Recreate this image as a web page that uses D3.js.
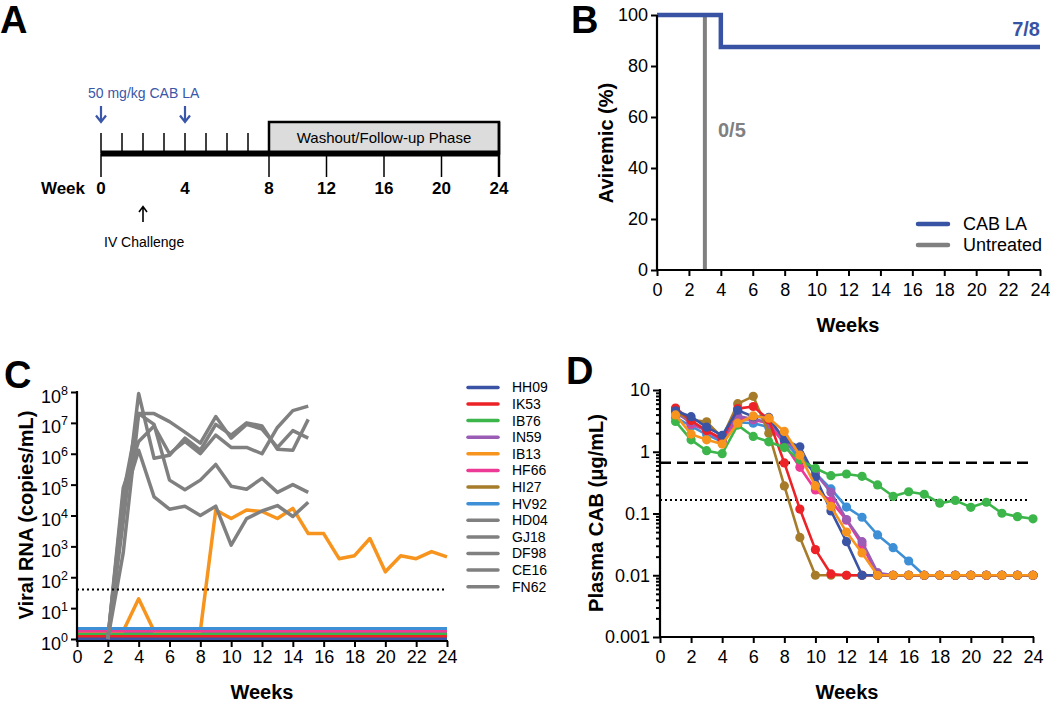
<!DOCTYPE html>
<html><head><meta charset="utf-8">
<script src="https://cdn.jsdelivr.net/npm/d3@7"></script>
<style>body{margin:0;background:#fff}</style>
</head><body>
<svg id="fig" width="1050" height="702"></svg>
<script>
// ================= DATA =================
// Panel A – study timeline
const timelineLabels = [0, 4, 8, 12, 16, 20, 24];
const weeklyTicks = [0, 1, 2, 3, 4, 5, 6, 7];
const lowerTicks = [0, 8, 12, 16, 20, 24];
const doseWeeks = [0, 4];
const challengeWeek = 2;
const washoutStart = 8, washoutEnd = 24;

// Panel B – aviremic (%)
const cabWeeks = [0, 4, 24];
const cabAviremic = [100, 87.5, 87.5];
const untreatedWeeks = [0, 3];
const untreatedAviremic = [100, 0];

// Panel C – viral RNA (copies/mL)
const cabAnimals = ["HH09", "IK53", "IB76", "IN59", "IB13", "HF66", "HI27", "HV92"];
const untreatedAnimals = ["HD04", "GJ18", "DF98", "CE16", "FN62"];
const animalColors = ["#3a53a4", "#ec2227", "#3cb54a", "#9a5cb4", "#f7941e", "#ec3a96", "#a67c2a", "#3d8fd6"];
const untreatedColor = "#808080";
const rnaWeeksFull = [0, 24];
const rnaBaseline = [1.04, 1.25, 1.51, 1.82, 1.82, 1.82, 2.19, 2.19];
const ib13RnaWeeks = [0, 1, 2, 3, 4, 5, 6, 7, 8, 9, 10, 11, 12, 13, 14, 15, 16, 17, 18, 19, 20, 21, 22, 23, 24];
const ib13Rna = [1.82, 1.82, 1.82, 1.82, 20, 1.82, 1.82, 1.82, 1.82, 1.5e4, 8.0e3, 1.5e4, 1.35e4, 8.0e3, 1.7e4, 2.6e3, 2.6e3, 400, 500, 1.8e3, 150, 500, 400, 680, 460];
const untreatedRnaWeeks = [2, 3, 4, 5, 6, 7, 8, 9, 10, 11, 12, 13, 14, 15];
const rnaHD04 = [1, 6.3e3, 8.9e7, 7.1e5, 8.9e5, 3.2e6, 1.3e6, 8.9e6, 4.0e6, 1.0e7, 7.9e6, 1.4e6, 1.3e6, 1.3e7];
const rnaGJ18 = [1, 5.0e4, 2.0e7, 2.0e7, 1.1e7, 5.0e6, 2.2e6, 1.6e7, 3.2e6, 8.9e6, 6.3e6, 1.6e6, 5.6e6, 3.2e6];
const rnaDF98 = [1, 7.9e4, 2.5e6, 7.9e6, 1.0e6, 2.5e6, 1.0e6, 4.0e6, 1.6e6, 1.6e6, 1.0e6, 7.1e6, 2.5e7, 3.5e7];
const rnaCE16 = [1, 630, 2.0e7, 8.9e6, 1.4e5, 6.8e4, 1.4e5, 4.5e5, 8.9e4, 7.1e4, 1.6e5, 5.6e4, 1.0e5, 5.6e4];
const rnaFN62 = [1, 3.2e4, 1.3e6, 4.0e4, 1.6e4, 2.0e4, 1.0e4, 2.0e4, 1.1e3, 7.9e3, 1.4e4, 2.1e4, 9.3e3, 2.7e4];
const rnaLimit = 40;
const rnaDecades = [1, 10, 100, 1e3, 1e4, 1e5, 1e6, 1e7, 1e8];
const rnaExponents = ["0", "1", "2", "3", "4", "5", "6", "7", "8"];

// Panel D – plasma CAB (µg/mL), weeks 1..24
const cabPkWeeks = [1, 2, 3, 4, 5, 6, 7, 8, 9, 10, 11, 12, 13, 14, 15, 16, 17, 18, 19, 20, 21, 22, 23, 24];
const pkHH09 = [4.6, 3.7, 2.5, 1.84, 4.7, 3.7, 3.6, 1.55, 1.2, 0.39, 0.11, 0.035, 0.01, 0.01, 0.01, 0.01, 0.01, 0.01, 0.01, 0.01, 0.01, 0.01, 0.01, 0.01];
const pkIK53 = [5.1, 3.2, 2.2, 1.6, 5.0, 5.4, 3.3, 0.66, 0.118, 0.026, 0.0105, 0.01, 0.01, 0.01, 0.01, 0.01, 0.01, 0.01, 0.01, 0.01, 0.01, 0.01, 0.01, 0.01];
const pkIB76 = [3.1, 1.56, 1.04, 0.93, 2.7, 1.77, 1.45, 1.17, 0.74, 0.54, 0.41, 0.436, 0.40, 0.29, 0.19, 0.225, 0.205, 0.147, 0.163, 0.126, 0.152, 0.101, 0.089, 0.082];
const pkIN59 = [4.3, 3.0, 2.2, 1.6, 3.8, 3.4, 3.0, 1.7, 0.9, 0.45, 0.22, 0.08, 0.035, 0.011, 0.01, 0.01, 0.01, 0.01, 0.01, 0.01, 0.01, 0.01, 0.01, 0.01];
const pkIB13 = [3.95, 1.93, 1.56, 1.33, 2.9, 3.8, 3.5, 2.13, 0.88, 0.28, 0.13, 0.05, 0.023, 0.01, 0.01, 0.01, 0.01, 0.01, 0.01, 0.01, 0.01, 0.01, 0.01, 0.01];
const pkHF66 = [4.8, 2.8, 2.2, 1.5, 3.4, 3.3, 2.9, 1.35, 0.56, 0.24, 0.16, 0.078, 0.031, 0.01, 0.01, 0.01, 0.01, 0.01, 0.01, 0.01, 0.01, 0.01, 0.01, 0.01];
const pkHI27 = [4.4, 3.3, 3.05, 1.7, 6.0, 7.9, 2.0, 0.28, 0.041, 0.01, 0.01, 0.01, 0.01, 0.01, 0.01, 0.01, 0.01, 0.01, 0.01, 0.01, 0.01, 0.01, 0.01, 0.01];
const pkHV92 = [3.6, 2.6, 1.9, 1.45, 3.0, 2.9, 2.5, 1.5, 0.78, 0.45, 0.25, 0.127, 0.087, 0.045, 0.028, 0.017, 0.01, 0.01, 0.01, 0.01, 0.01, 0.01, 0.01, 0.01];
const pkDrawOrder = ["HV92", "HF66", "IN59", "HI27", "IK53", "HH09", "IB76", "IB13"];
const pkIC90x4 = 0.664;
const pkIC90 = 0.166;
const pkDecades = [0.001, 0.01, 0.1, 1, 10];
const pkDecadeLabels = ["0.001", "0.01", "0.1", "1", "10"];

const weekTicks = [0, 2, 4, 6, 8, 10, 12, 14, 16, 18, 20, 22, 24];

// ================= DRAWING =================
const FONT = "'Liberation Sans', Arial, Helvetica, sans-serif";
const svg = d3.select("#fig").attr("font-family", FONT);
const colorOf = name => animalColors[cabAnimals.indexOf(name)];

function styleAxis(g, fs) {
  g.select(".domain").remove();
  g.selectAll(".tick line").attr("stroke", "#000").attr("stroke-width", 2);
  g.selectAll(".tick text").attr("font-family", FONT).attr("font-size", fs || 18).attr("fill", "#000");
}
function panelLetter(t, x, y) {
  svg.append("text").attr("x", x).attr("y", y).text(t)
    .attr("font-size", 38).attr("font-weight", "bold");
}
function yTitle(t, x, y) {
  svg.append("text").attr("transform", `translate(${x},${y}) rotate(-90)`)
    .attr("text-anchor", "middle").attr("font-size", 20).attr("font-weight", "bold").text(t);
}
function xTitle(t, x, y) {
  svg.append("text").attr("x", x).attr("y", y).attr("text-anchor", "middle")
    .attr("font-size", 20).attr("font-weight", "bold").text(t);
}

// ---------- Panel A ----------
panelLetter("A", 0, 33);
const xA = d3.scaleLinear().domain([0, 8, 24]).range([101, 269, 499]);
const barY = 153.5;
const gA = svg.append("g");
gA.append("rect").attr("x", xA(washoutStart)).attr("y", 122)
  .attr("width", xA(washoutEnd) - xA(washoutStart)).attr("height", barY - 122)
  .attr("fill", "#dcdcdc").attr("stroke", "#000").attr("stroke-width", 2.5);
gA.append("text").attr("x", (xA(washoutStart) + xA(washoutEnd)) / 2).attr("y", 143)
  .attr("text-anchor", "middle").attr("font-size", 15).text("Washout/Follow-up Phase");
gA.selectAll(".wk").data(weeklyTicks).join("line")
  .attr("x1", d => xA(d)).attr("x2", d => xA(d)).attr("y1", 133).attr("y2", barY)
  .attr("stroke", "#000").attr("stroke-width", 1.5);
gA.selectAll(".lw").data(lowerTicks).join("line")
  .attr("x1", d => xA(d)).attr("x2", d => xA(d)).attr("y1", barY).attr("y2", 177)
  .attr("stroke", "#000").attr("stroke-width", 1.5);
gA.append("line").attr("x1", xA(washoutEnd)).attr("x2", xA(washoutEnd)).attr("y1", 122).attr("y2", 177)
  .attr("stroke", "#000").attr("stroke-width", 2.5);
gA.append("line").attr("x1", xA(0)).attr("x2", xA(24)).attr("y1", barY).attr("y2", barY)
  .attr("stroke", "#000").attr("stroke-width", 6);
gA.selectAll(".tl").data(timelineLabels).join("text")
  .attr("x", d => xA(d)).attr("y", 194).attr("text-anchor", "middle")
  .attr("font-size", 17).attr("font-weight", "bold").text(d => d);
gA.append("text").attr("x", 85).attr("y", 194).attr("text-anchor", "end")
  .attr("font-size", 17).attr("font-weight", "bold").text("Week");
const doseBlue = "#3a56a8";
gA.append("text").attr("x", 88).attr("y", 98).attr("fill", doseBlue).attr("font-size", 14).text("50 mg/kg CAB LA");
doseWeeks.forEach(w => {
  const x = xA(w);
  gA.append("path").attr("d", `M${x},106 L${x},122 M${x - 5},115.5 L${x},122 L${x + 5},115.5`)
    .attr("fill", "none").attr("stroke", doseBlue).attr("stroke-width", 2.2);
});
{
  const x = xA(challengeWeek);
  gA.append("path").attr("d", `M${x},207 L${x},222 M${x - 4},212 L${x},206.5 L${x + 4},212`)
    .attr("fill", "none").attr("stroke", "#000").attr("stroke-width", 1.6);
  gA.append("text").attr("x", 104).attr("y", 247).attr("font-size", 14).text("IV Challenge");
}

// ---------- Panel B ----------
panelLetter("B", 571, 33);
const xB = d3.scaleLinear().domain([0, 24]).range([657, 1040]);
const yB = d3.scaleLinear().domain([0, 100]).range([270, 15]);
const lineB = d3.line().curve(d3.curveStepAfter).x(d => xB(d[0])).y(d => yB(d[1]));
svg.append("path").attr("d", lineB(d3.zip(untreatedWeeks, untreatedAviremic)))
  .attr("fill", "none").attr("stroke", untreatedColor).attr("stroke-width", 4);
svg.append("path").attr("d", lineB(d3.zip(cabWeeks, cabAviremic)))
  .attr("fill", "none").attr("stroke", "#3953a4").attr("stroke-width", 4.5);
svg.append("g").attr("transform", "translate(0,270)")
  .call(d3.axisBottom(xB).tickValues(weekTicks).tickSize(6).tickPadding(7).tickSizeOuter(0))
  .call(g => styleAxis(g));
svg.append("g").attr("transform", "translate(657,0)")
  .call(d3.axisLeft(yB).tickValues([0, 20, 40, 60, 80, 100]).tickSize(6).tickPadding(3).tickSizeOuter(0))
  .call(g => styleAxis(g));
svg.append("line").attr("x1", 657).attr("x2", 1041).attr("y1", 270).attr("y2", 270).attr("stroke", "#000").attr("stroke-width", 2.2);
svg.append("line").attr("x1", 657).attr("x2", 657).attr("y1", 15).attr("y2", 271).attr("stroke", "#000").attr("stroke-width", 2.2);
svg.append("text").attr("x", 1040).attr("y", 36).attr("text-anchor", "end").attr("fill", "#3953a4")
  .attr("font-size", 20).attr("font-weight", "bold").text("7/8");
svg.append("text").attr("x", 718).attr("y", 137).attr("fill", untreatedColor)
  .attr("font-size", 20).attr("font-weight", "bold").text("0/5");
[["CAB LA", "#3953a4", 224], ["Untreated", untreatedColor, 245]].forEach(([t, c, y]) => {
  svg.append("line").attr("x1", 918).attr("x2", 948).attr("y1", y).attr("y2", y)
    .attr("stroke", c).attr("stroke-width", 4.5).attr("stroke-linecap", "round");
  svg.append("text").attr("x", 963).attr("y", y + 6).attr("font-size", 18).text(t);
});
yTitle("Aviremic (%)", 613, 143);
xTitle("Weeks", 848, 332);

// ---------- Panel C ----------
panelLetter("C", 4, 388);
const xC = d3.scaleLinear().domain([0, 24]).range([77, 447]);
const yC = d3.scaleLog().domain([1, 1e8]).range([639, 392]);
const lineC = d3.line().x(d => xC(d[0])).y(d => yC(d[1]));
const gC = svg.append("g");
cabAnimals.forEach((name, i) => {
  if (name === "IB13") {
    gC.append("path").attr("d", lineC(d3.zip(ib13RnaWeeks, ib13Rna)))
      .attr("fill", "none").attr("stroke", animalColors[i]).attr("stroke-width", 3.5).attr("stroke-linejoin", "round");
  } else {
    gC.append("path").attr("d", lineC(rnaWeeksFull.map(w => [w, rnaBaseline[i]])))
      .attr("fill", "none").attr("stroke", animalColors[i]).attr("stroke-width", 3);
  }
});
[rnaHD04, rnaGJ18, rnaDF98, rnaCE16, rnaFN62].forEach(vals => {
  gC.append("path").attr("d", lineC(d3.zip(untreatedRnaWeeks, vals)))
    .attr("fill", "none").attr("stroke", untreatedColor).attr("stroke-width", 3.5).attr("stroke-linejoin", "round");
});
svg.append("line").attr("x1", xC(0)).attr("x2", xC(24)).attr("y1", yC(rnaLimit)).attr("y2", yC(rnaLimit))
  .attr("stroke", "#000").attr("stroke-width", 2).attr("stroke-dasharray", "2,3");
svg.append("g").attr("transform", "translate(0,641)")
  .call(d3.axisBottom(xC).tickValues(weekTicks).tickSize(6).tickPadding(3).tickSizeOuter(0))
  .call(g => styleAxis(g));
const gCy = svg.append("g").attr("transform", "translate(77,0)")
  .call(d3.axisLeft(yC).tickValues(rnaDecades).tickSize(6).tickFormat("").tickSizeOuter(0))
  .call(g => styleAxis(g));
gCy.selectAll(".tick").each(function (d, i) {
  const t = d3.select(this).append("text").attr("x", -9).attr("y", 10).attr("text-anchor", "end").attr("fill", "#000");
  t.append("tspan").attr("font-size", 18).text("10");
  t.append("tspan").attr("font-size", 12.5).attr("dy", -8).text(rnaExponents[i]);
});
svg.append("line").attr("x1", 76).attr("x2", 448).attr("y1", 641).attr("y2", 641).attr("stroke", "#000").attr("stroke-width", 2.2);
svg.append("line").attr("x1", 77).attr("x2", 77).attr("y1", 391).attr("y2", 642).attr("stroke", "#000").attr("stroke-width", 2.2);
yTitle("Viral RNA (copies/mL)", 33, 515);
xTitle("Weeks", 262, 699);
const legNames = cabAnimals.concat(untreatedAnimals);
const legColors = animalColors.concat(untreatedAnimals.map(() => untreatedColor));
const legY = d3.scalePoint().domain(legNames).range([387.4, 586.7]);
legNames.forEach((n, i) => {
  svg.append("line").attr("x1", 468).attr("x2", 498).attr("y1", legY(n)).attr("y2", legY(n))
    .attr("stroke", legColors[i]).attr("stroke-width", 3.5).attr("stroke-linecap", "round");
  svg.append("text").attr("x", 512).attr("y", legY(n) + 5).attr("font-size", 14).text(n);
});

// ---------- Panel D ----------
panelLetter("D", 566, 384);
const xD = d3.scaleLinear().domain([0, 24]).range([660, 1033]);
const yD = d3.scaleLog().domain([0.001, 10]).range([637, 390]);
const pkSeries = { HH09: pkHH09, IK53: pkIK53, IB76: pkIB76, IN59: pkIN59, IB13: pkIB13, HF66: pkHF66, HI27: pkHI27, HV92: pkHV92 };
svg.append("line").attr("x1", xD(0)).attr("x2", 1030).attr("y1", yD(pkIC90x4)).attr("y2", yD(pkIC90x4))
  .attr("stroke", "#000").attr("stroke-width", 2.5).attr("stroke-dasharray", "11,6");
svg.append("line").attr("x1", xD(0)).attr("x2", 1030).attr("y1", yD(pkIC90)).attr("y2", yD(pkIC90))
  .attr("stroke", "#000").attr("stroke-width", 2).attr("stroke-dasharray", "2,3");
const lineD = d3.line().x(d => xD(d[0])).y(d => yD(d[1]));
pkDrawOrder.forEach(name => {
  const pts = d3.zip(cabPkWeeks, pkSeries[name]);
  const g = svg.append("g");
  g.append("path").attr("d", lineD(pts)).attr("fill", "none").attr("stroke", colorOf(name))
    .attr("stroke-width", 2.6).attr("stroke-linejoin", "round");
  g.selectAll("circle").data(pts).join("circle").attr("cx", d => xD(d[0])).attr("cy", d => yD(d[1]))
    .attr("r", 4.6).attr("fill", colorOf(name));
});
svg.append("g").attr("transform", "translate(0,637)")
  .call(d3.axisBottom(xD).tickValues(weekTicks).tickSize(6).tickPadding(7).tickSizeOuter(0))
  .call(g => styleAxis(g));
svg.append("g").attr("transform", "translate(660,0)")
  .call(d3.axisLeft(yD).tickValues(pkDecades).tickSize(7).tickPadding(3).tickSizeOuter(0)
    .tickFormat((d, i) => pkDecadeLabels[i]))
  .call(g => styleAxis(g));
svg.append("g").attr("transform", "translate(660,0)")
  .call(d3.axisLeft(yD).tickValues(yD.ticks().filter(v => !pkDecades.includes(v))).tickSize(4).tickFormat("").tickSizeOuter(0))
  .call(g => styleAxis(g));
svg.append("line").attr("x1", 659).attr("x2", 1034).attr("y1", 637).attr("y2", 637).attr("stroke", "#000").attr("stroke-width", 2.2);
svg.append("line").attr("x1", 660).attr("x2", 660).attr("y1", 389).attr("y2", 638).attr("stroke", "#000").attr("stroke-width", 2.2);
yTitle("Plasma CAB (μg/mL)", 603, 513);
xTitle("Weeks", 847, 699);
</script>
</body></html>
